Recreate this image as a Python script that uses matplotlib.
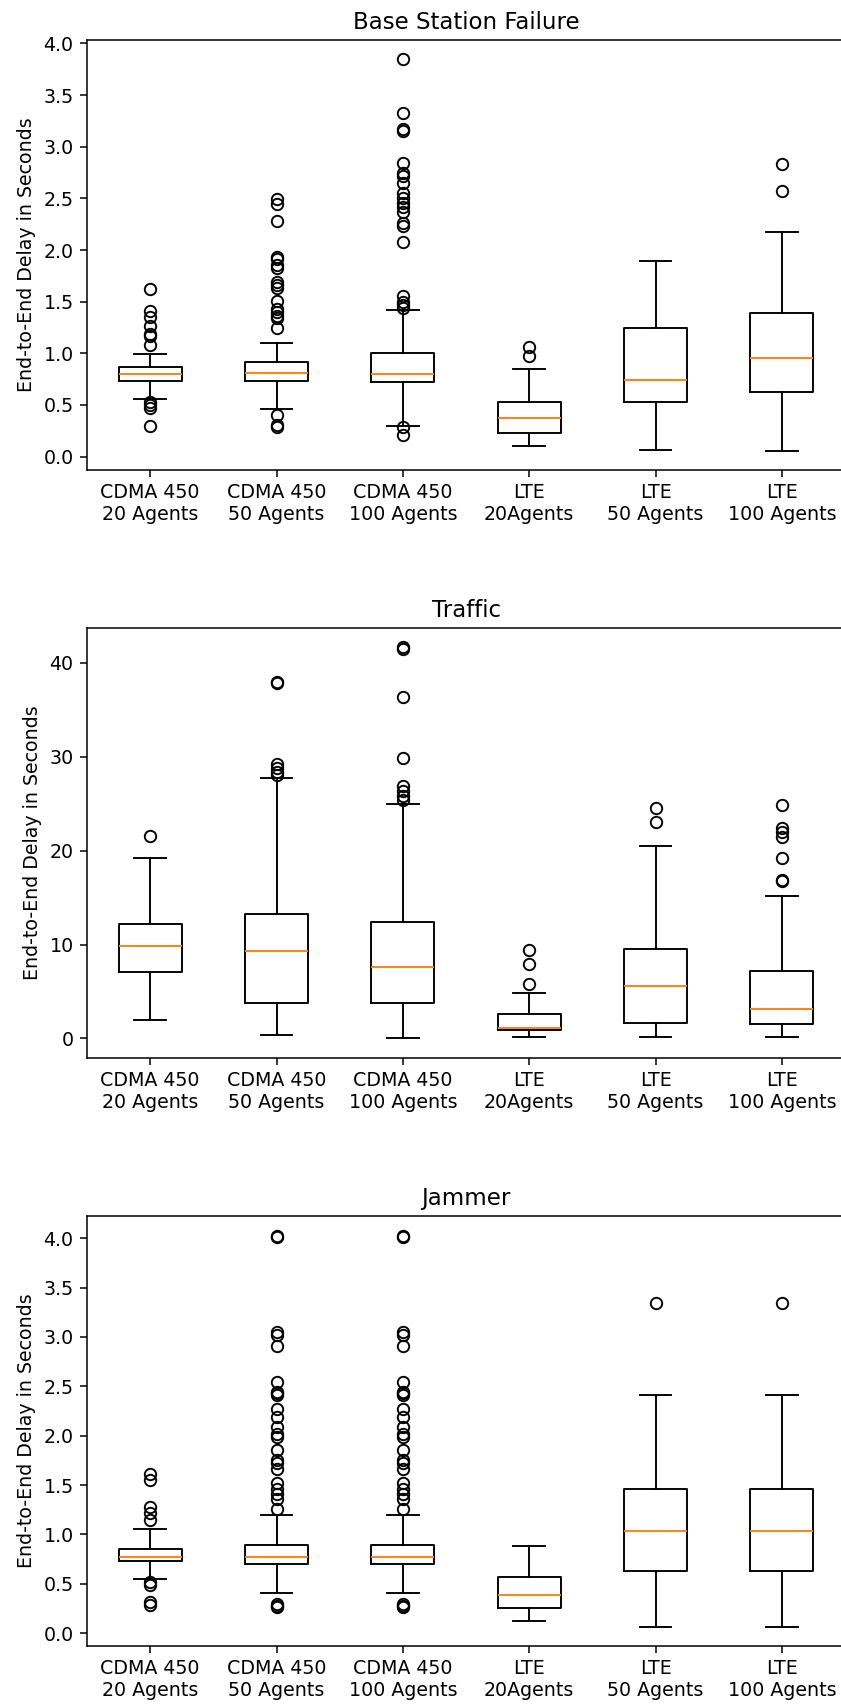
import matplotlib
matplotlib.use("Agg")
import matplotlib.pyplot as plt

labels = ['CDMA 450\n20 Agents', 'CDMA 450\n50 Agents', 'CDMA 450\n100 Agents',
          'LTE\n20Agents', 'LTE\n50 Agents', 'LTE\n100 Agents']

# --- Base Station Failure ---
bsf_med = [0.797, 0.813, 0.80, 0.378, 0.742, 0.958]
bsf_q1 = [0.733, 0.733, 0.72, 0.226, 0.53, 0.623]
bsf_q3 = [0.865, 0.92, 1.001, 0.526, 1.249, 1.394]
bsf_lo = [0.556, 0.459, 0.30, 0.107, 0.065, 0.055]
bsf_hi = [0.991, 1.097, 1.42, 0.849, 1.898, 2.178]
bsf_fliers = [
    [1.626, 1.413, 1.349, 1.265, 1.19, 1.165, 1.081, 0.533, 0.50, 0.475, 0.297],
    [2.49, 2.45, 2.285, 1.93, 1.91, 1.856, 1.83, 1.694, 1.66, 1.63, 1.51,
     1.427, 1.40, 1.365, 1.34, 1.243, 0.404, 0.307, 0.29],
    [3.847, 3.33, 3.17, 3.155, 2.84, 2.75, 2.72, 2.646, 2.55, 2.50, 2.453,
     2.42, 2.372, 2.265, 2.23, 2.075, 1.556, 1.50, 1.47, 1.44, 0.29, 0.21],
    [1.065, 0.975],
    [],
    [2.83, 2.572],
]

# --- Traffic ---
trf_med = [9.83, 9.26, 7.63, 1.07, 5.54, 3.17]
trf_q1 = [7.03, 3.77, 3.77, 0.94, 1.68, 1.54]
trf_q3 = [12.23, 13.3, 12.38, 2.6, 9.54, 7.17]
trf_lo = [1.96, 0.33, 0.01, 0.19, 0.19, 0.19]
trf_hi = [19.25, 27.68, 24.99, 4.8, 20.52, 15.21]
trf_fliers = [
    [21.55],
    [37.92, 37.85, 29.17, 28.75, 28.4, 28.05],
    [41.67, 41.5, 36.4, 29.9, 26.9, 26.3, 25.8, 25.4],
    [9.44, 7.91, 5.82],
    [24.5, 23.07],
    [24.85, 22.37, 22.0, 21.48, 19.18, 16.88, 16.8],
]

# --- Jammer ---
jam_med = [0.773, 0.773, 0.773, 0.39, 1.039, 1.039]
jam_q1 = [0.729, 0.70, 0.70, 0.26, 0.63, 0.63]
jam_q3 = [0.857, 0.898, 0.898, 0.57, 1.464, 1.464]
jam_lo = [0.547, 0.408, 0.408, 0.125, 0.064, 0.064]
jam_hi = [1.056, 1.194, 1.194, 0.888, 2.416, 2.416]
jam_cdma_fliers = [4.025, 4.01, 3.05, 3.02, 2.908, 2.544, 2.44, 2.43, 2.41, 2.267,
                   2.19, 2.088, 2.02, 1.99, 1.852, 1.751, 1.72, 1.66, 1.521, 1.464,
                   1.413, 1.362, 1.262, 0.30, 0.28, 0.27]
jam_fliers = [
    [1.616, 1.556, 1.279, 1.218, 1.144, 0.52, 0.49, 0.317, 0.29],
    jam_cdma_fliers,
    jam_cdma_fliers,
    [],
    [3.347],
    [3.347],
]

panels = [
    ('Base Station Failure', bsf_med, bsf_q1, bsf_q3, bsf_lo, bsf_hi, bsf_fliers, (-0.129, 4.034)),
    ('Traffic', trf_med, trf_q1, trf_q3, trf_lo, trf_hi, trf_fliers, (-2.08, 43.7)),
    ('Jammer', jam_med, jam_q1, jam_q3, jam_lo, jam_hi, jam_fliers, (-0.129, 4.224)),
]

dpi = 137
fig = plt.figure(figsize=(841 / dpi, 1704 / dpi), dpi=dpi)
bottoms = [0.7242, 0.3791, 0.03404]

for (title, med, q1, q3, lo, hi, fl, ylim), b in zip(panels, bottoms):
    ax = fig.add_axes([87 / 841, b, 758 / 841, 430 / 1704])
    stats = []
    for i in range(len(labels)):
        stats.append({'med': med[i], 'q1': q1[i], 'q3': q3[i],
                      'whislo': lo[i], 'whishi': hi[i],
                      'fliers': fl[i], 'label': labels[i]})
    ax.bxp(stats)
    ax.set_ylim(*ylim)
    ax.set_title(title)
    ax.set_ylabel('End-to-End Delay in Seconds')

fig.savefig('out.png', dpi=dpi)
